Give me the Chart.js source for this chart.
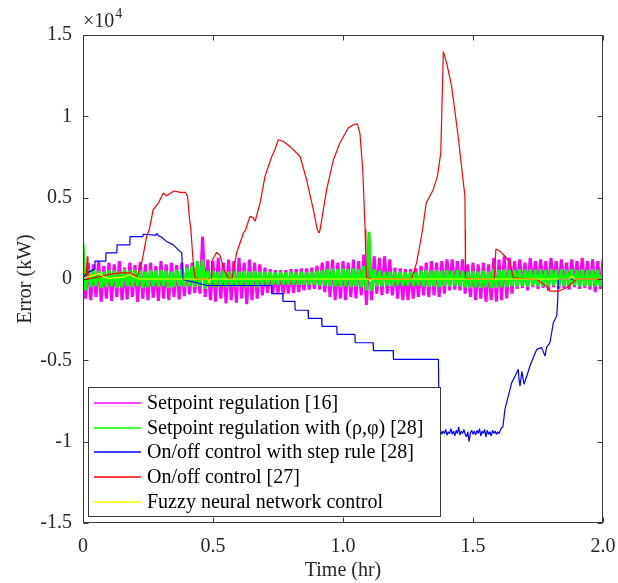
<!DOCTYPE html>
<html>
<head>
<meta charset="utf-8">
<script src="https://cdn.jsdelivr.net/npm/chart.js@4.4.1/dist/chart.umd.min.js"></script>
<style>
html,body{margin:0;padding:0;background:#fff;}
#wrap{width:618px;height:583px;}
</style>
</head>
<body>
<div id="wrap"><canvas id="c" width="618" height="583"></canvas></div>
<script>
// ---------- DATA (kW, time in hours) ----------
const seriesLabels = [
  'Setpoint regulation [16]',
  'Setpoint regulation with (\u03c1,\u03c6) [28]',
  'On/off control with step rule [28]',
  'On/off control [27]',
  'Fuzzy neural network control'
];
const xTickLabels = ['0', '0.5', '1.0', '1.5', '2.0'];
const yTickLabels = ['-1.5', '-1', '-0.5', '0', '0.5', '1', '1.5'];

// sampled every 0.01 hr from 0 to 2.0
const noiseStep = 0.01;
const setpointValues = [
 200,-1200,1000,-1300,900,-1100,1100,-1400,800,-1200,
 1000,-1350,900,-1100,1100,-1300,700,-1250,1000,-1100,
 850,-1400,1050,-1200,900,-1300,1000,-1150,800,-1350,
 1100,-1200,900,-1300,1000,-1100,850,-1250,1000,-1050,
 900,-950,1000,-850,800,-900,2600,-1100,1200,-1300,
 1100,-1400,1300,-1200,1000,-1500,1200,-1300,1100,-1450,
 1300,-1200,1000,-1550,1200,-1300,1000,-1200,900,-1000,
 700,-850,600,-900,550,-950,550,-950,550,-900,
 600,-850,600,-800,650,-700,650,-650,700,-600,
 800,-650,1000,-800,1100,-1100,1200,-1300,1000,-1200,
 1100,-1300,1000,-1100,1200,-1200,1100,-1000,1500,-1600,
 1700,-1300,1400,-900,1300,-1000,1400,-900,1200,-1000,
 700,-1200,650,-1300,600,-1300,600,-1200,650,-1100,
 800,-1000,1000,-1100,1100,-1000,1000,-1100,1100,-900,
 1200,-700,1200,-650,1100,-700,1200,-900,900,-1100,
 1000,-1300,900,-1200,1000,-1400,900,-1300,1300,-1400,
 1200,-1300,1400,-1200,1300,-900,1100,-600,1200,-550,
 1000,-700,1300,-500,1100,-600,1200,-550,1100,-700,
 1300,-500,1100,-600,1200,-550,1000,-650,1200,-500,
 1100,-600,1300,-550,1100,-650,1200,-800,1100,-600,
 1200
];
const setpointRhoPhiValues = [
 2200,-700,600,-500,550,-450,500,-550,450,-500,
 550,-450,500,-550,450,-500,600,-450,500,-500,
 550,-450,500,-550,450,-500,550,-450,500,-500,
 550,-450,500,-550,450,-500,550,-450,600,-500,
 700,-450,800,-500,1100,-450,1200,-600,500,-450,
 500,-500,450,-450,500,-500,450,-450,500,-500,
 450,-450,500,-500,450,-450,500,-500,450,-400,
 450,-350,450,-350,400,-350,450,-350,400,-350,
 450,-350,400,-350,450,-350,400,-350,450,-350,
 500,-400,550,-400,600,-450,650,-450,600,-500,
 650,-450,600,-500,650,-450,600,-500,800,-700,
 2900,-700,600,-450,500,-450,450,-400,450,-450,
 450,-400,450,-450,400,-400,450,-450,400,-400,
 500,-450,550,-500,500,-450,550,-500,500,-450,
 550,-450,500,-400,550,-450,500,-500,450,-550,
 500,-500,450,-550,500,-500,450,-550,600,-550,
 550,-500,600,-500,550,-450,550,-450,600,-450,
 550,-450,600,-400,550,-450,600,-450,550,-450,
 600,-400,550,-450,600,-450,550,-450,600,-400,
 550,-450,600,-450,550,-450,600,-450,550,-450,
 550
];

const stepRuleTime = [
 0,0.01,0.03,0.045,0.046,0.087,0.088,0.13,0.131,0.18,0.181,0.23,0.231,0.28,0.285,0.29,0.30,0.322,0.347,0.373,0.38,0.384,0.39,0.437,0.475,
 0.725,0.726,0.768,0.769,0.815,0.816,0.866,0.867,0.918,0.919,0.976,0.977,1.046,1.047,1.116,1.117,1.193,1.194,1.367,
 1.37,1.375,1.38,1.385,1.39,1.395,1.40,1.405,1.41,1.415,1.42,1.425,1.43,1.435,1.44,1.445,1.45,1.455,1.46,1.465,1.47,1.475,1.48,1.485,1.49,1.495,
 1.50,1.505,1.51,1.515,1.52,1.525,1.53,1.535,1.54,1.545,1.55,1.555,1.56,1.565,1.57,1.575,1.58,1.585,1.59,1.595,1.60,
 1.61,1.615,1.623,1.636,1.649,1.662,1.674,1.677,1.681,1.688,1.696,1.707,1.719,1.732,1.745,1.764,1.777,1.783,1.796,1.809,1.822,1.826,1.828,1.835,2.0
];
const stepRuleValues = [
 0,300,500,600,1100,1100,1600,1600,2100,2100,2600,2600,2750,2700,2800,2650,2600,2300,2100,1700,1600,0,-60,-230,-400,
 -400,-900,-900,-1370,-1370,-1920,-1920,-2420,-2420,-2910,-2910,-3410,-3410,-3920,-3920,-4400,-4400,-4940,-4940,
 -9450,-9300,-9550,-9350,-9500,-9250,-9600,-9400,-9500,-9200,-9550,-9350,-9650,-9300,-9500,-9100,-9600,-9350,-9500,-9250,-9550,-9700,-9400,-10000,-9450,-9300,
 -9550,-9350,-9600,-9300,-9500,-9200,-9650,-9350,-9500,-9250,-9700,-9300,-9550,-9400,-9650,-9300,-9500,-9350,-9550,-9400,-9500,
 -9130,-9100,-8000,-7190,-6370,-5960,-5550,-6170,-6580,-5670,-6470,-5960,-5350,-4830,-4330,-4220,-4740,-4200,-3910,-2690,-2280,-1260,-30,0,0
];

const onOffTime = [
 0,0.012,0.0165,0.019,0.065,0.10,0.142,0.181,0.207,0.226,0.245,0.255,0.27,0.29,0.309,0.322,0.35,0.373,0.394,0.402,0.41,0.415,0.423,0.431,
 0.45,0.488,0.494,0.495,0.514,0.527,0.542,0.559,0.573,0.591,0.617,0.626,0.642,0.654,0.662,0.681,0.70,0.726,0.738,0.751,0.771,0.796,0.835,0.86,0.886,0.901,0.908,
 0.912,0.937,0.963,0.988,1.02,1.04,1.055,1.065,1.076,1.085,1.088,1.091,1.104,1.264,1.283,1.296,1.306,1.32,1.347,1.363,1.376,1.386,1.399,1.418,1.443,1.469,1.47,1.471,
 1.488,1.582,1.588,1.604,1.623,1.642,1.655,1.719,1.745,1.783,1.796,1.828,1.86,1.879,1.898,2.0
];
const onOffValues = [
 0,0,1400,0,150,280,380,380,130,990,2630,3040,4260,4670,5290,5120,5410,5330,5330,5080,3650,3040,1200,70,
 0,0,0,1090,1640,1440,580,70,0,1610,2830,3040,3850,3770,3550,4670,6310,7530,7940,8560,8450,8150,7530,6100,4260,3040,2830,
 3040,5490,7330,8360,9280,9480,9540,8970,6720,3040,1200,70,0,0,990,2120,3040,4670,5490,6310,7740,13980,13260,11830,8760,5080,3040,70,
 0,0,1850,1710,1400,990,70,0,-30,-440,-750,-750,-540,-280,0,0
];

const fuzzyTime = [0,0.027,0.052,0.065,0.078,0.10,0.155,0.18,0.193,0.213,0.48,0.484,0.49,1.10,1.105,1.11,1.87,1.88,1.89,2.0];
const fuzzyValues = [0,170,280,340,130,30,110,280,170,0,0,-230,0,0,-150,0,0,170,0,0];

const seriesColors = ['#ff00ff', '#00ff00', '#0000ff', '#ff0000', '#ffff00'];

// ---------- build ----------
function pairs(ts, vs) { return vs.map((v, i) => ({x: ts[i], y: v})); }
function grid(vs) { return vs.map((v, i) => ({x: +(i * noiseStep).toFixed(3), y: v})); }

const FONT = '"Liberation Serif", "Times New Roman", serif';
const AXIS_COLOR = '#3a3a3a';

const frameAndLegend = {
  id: 'frameAndLegend',
  afterDraw(chart) {
    const {ctx, chartArea: a, scales} = chart;
    ctx.save();
    ctx.strokeStyle = AXIS_COLOR;
    ctx.lineWidth = 1;
    const L = Math.round(a.left) + 0.5, R = Math.round(a.right) - 0.5;
    const T = Math.round(a.top) + 0.5, B = Math.round(a.bottom) - 0.5;
    ctx.strokeRect(L, T, R - L, B - T);
    const tl = 5;
    ctx.beginPath();
    scales.x.ticks.forEach(t => {
      const px = Math.round(scales.x.getPixelForValue(t.value)) + 0.5;
      ctx.moveTo(px, B); ctx.lineTo(px, B - tl);
      ctx.moveTo(px, T); ctx.lineTo(px, T + tl);
    });
    scales.y.ticks.forEach(t => {
      const py = Math.round(scales.y.getPixelForValue(t.value)) + 0.5;
      ctx.moveTo(L, py); ctx.lineTo(L + tl, py);
      ctx.moveTo(R, py); ctx.lineTo(R - tl, py);
    });
    ctx.stroke();

    ctx.fillStyle = '#262626';
    ctx.textBaseline = 'alphabetic';
    ctx.textAlign = 'left';
    ctx.font = '20px ' + FONT;
    ctx.fillText('\u00d710', a.left, a.top - 8);
    const w = ctx.measureText('\u00d710').width;
    ctx.font = '14px ' + FONT;
    ctx.fillText('4', a.left + w + 1, a.top - 17);

    const bx = 88.5, by = 387.5, bw = 352, bh = 129;
    ctx.fillStyle = '#ffffff';
    ctx.fillRect(bx, by, bw, bh);
    ctx.strokeStyle = AXIS_COLOR;
    ctx.lineWidth = 1;
    ctx.strokeRect(bx, by, bw, bh);
    ctx.font = '20px ' + FONT;
    ctx.textBaseline = 'middle';
    chart.data.datasets.forEach((ds, i) => {
      const y = Math.round(403 + i * 24.7);
      ctx.strokeStyle = ds.borderColor;
      ctx.lineWidth = 1.4;
      ctx.beginPath();
      ctx.moveTo(94, y);
      ctx.lineTo(141, y);
      ctx.stroke();
      ctx.fillStyle = '#000000';
      ctx.fillText(ds.label, 147, y + 1);
    });
    ctx.restore();
  }
};

const datasets = [
  {label: seriesLabels[0], data: grid(setpointValues), borderColor: seriesColors[0], order: 5, borderWidth: 3},
  {label: seriesLabels[1], data: grid(setpointRhoPhiValues), borderColor: seriesColors[1], order: 4, borderWidth: 3},
  {label: seriesLabels[2], data: pairs(stepRuleTime, stepRuleValues), borderColor: seriesColors[2], order: 3, borderWidth: 1.2},
  {label: seriesLabels[3], data: pairs(onOffTime, onOffValues), borderColor: seriesColors[3], order: 2, borderWidth: 1.2},
  {label: seriesLabels[4], data: pairs(fuzzyTime, fuzzyValues), borderColor: seriesColors[4], order: 1, borderWidth: 1.2}
].map(d => Object.assign(d, {pointRadius: 0, tension: 0, fill: false, borderJoinStyle: 'bevel'}));

new Chart(document.getElementById('c'), {
  type: 'line',
  data: {datasets},
  options: {
    responsive: false,
    animation: false,
    events: [],
    layout: {padding: {top: 35, right: 15, bottom: 0, left: 0}},
    plugins: {legend: {display: false}, tooltip: {enabled: false}},
    scales: {
      x: {
        type: 'linear', min: 0, max: 2,
        grid: {display: false, drawTicks: false},
        border: {display: false},
        ticks: {
          stepSize: 0.5, padding: 12, color: '#262626',
          font: {family: FONT, size: 20},
          callback: (v, i) => xTickLabels[i]
        },
        title: {display: true, text: 'Time (hr)', color: '#262626', font: {family: FONT, size: 20}, padding: {top: 0, bottom: 0}},
        afterFit: s => { s.height = 60; s.paddingLeft = 0; s.paddingRight = 0; }
      },
      y: {
        type: 'linear', min: -15000, max: 15000,
        grid: {display: false, drawTicks: false},
        border: {display: false},
        ticks: {
          stepSize: 5000, padding: 11, color: '#262626',
          font: {family: FONT, size: 20},
          callback: (v, i) => yTickLabels[i]
        },
        title: {display: true, text: 'Error (kW)', color: '#262626', font: {family: FONT, size: 20}, padding: {top: 14, bottom: 0}},
        afterFit: s => { s.width = 83; s.paddingTop = 0; s.paddingBottom = 0; }
      }
    }
  },
  plugins: [frameAndLegend]
});
</script>
</body>
</html>
